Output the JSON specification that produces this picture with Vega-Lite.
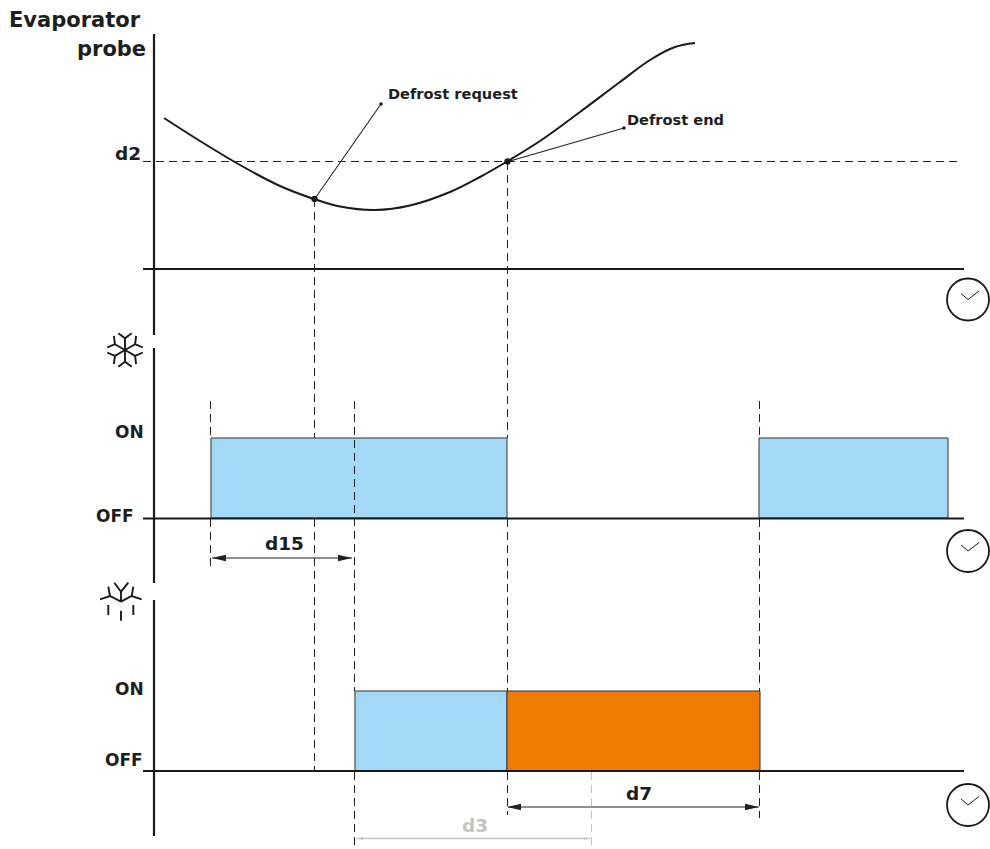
{
"$schema":"https://vega.github.io/schema/vega-lite/v6.json",
"width":990,"height":849,"padding":0,
"autosize":{"type":"none"},
"background":"white",
"config":{"view":{"stroke":null}},
"encoding":{
"x":{"field":"x","type":"quantitative","scale":{"domain":[0,990],"nice":false,"zero":false},"axis":null},
"y":{"field":"y","type":"quantitative","scale":{"domain":[849,0],"nice":false,"zero":false},"axis":null}
},
"layer":[
{"data":{"values":[
{"x":211,"x2":507,"y":438,"y2":518,"state":"cool"},
{"x":759,"x2":948,"y":438,"y2":518,"state":"cool"},
{"x":355,"x2":507,"y":691,"y2":771,"state":"cool"},
{"x":507,"x2":760,"y":691,"y2":771,"state":"heat"}]},
"mark":{"type":"rect","stroke":"#333333","strokeWidth":1},
"encoding":{"x2":{"field":"x2"},"y2":{"field":"y2"},"fill":{"field":"state","type":"nominal","scale":{"domain":["cool","heat"],"range":["#a3d9f7","#f07c05"]},"legend":null}}},
{"data":{"values":[
{"seg":"d2","i":0,"x":143,"y":161.5},{"seg":"d2","i":1,"x":961,"y":161.5},
{"seg":"a1","i":0,"x":314.5,"y":199},{"seg":"a1","i":1,"x":314.5,"y":438},
{"seg":"a2","i":0,"x":314.5,"y":519},{"seg":"a2","i":1,"x":314.5,"y":771},
{"seg":"b1","i":0,"x":507.5,"y":162},{"seg":"b1","i":1,"x":507.5,"y":438},
{"seg":"b2","i":0,"x":507.5,"y":519},{"seg":"b2","i":1,"x":507.5,"y":691},
{"seg":"b3","i":0,"x":507.5,"y":772},{"seg":"b3","i":1,"x":507.5,"y":815},
{"seg":"c1","i":0,"x":210.5,"y":401},{"seg":"c1","i":1,"x":210.5,"y":438},
{"seg":"c2","i":0,"x":210.5,"y":519},{"seg":"c2","i":1,"x":210.5,"y":570},
{"seg":"e1","i":0,"x":354.5,"y":401},{"seg":"e1","i":1,"x":354.5,"y":691},
{"seg":"e2","i":0,"x":354.5,"y":772},{"seg":"e2","i":1,"x":354.5,"y":849},
{"seg":"f1","i":0,"x":759.5,"y":401},{"seg":"f1","i":1,"x":759.5,"y":438},
{"seg":"f2","i":0,"x":759.5,"y":519},{"seg":"f2","i":1,"x":759.5,"y":691},
{"seg":"f3","i":0,"x":759.5,"y":772},{"seg":"f3","i":1,"x":759.5,"y":818}]},
"mark":{"type":"line","color":"#222222","strokeWidth":1,"strokeDash":[8,5]},
"encoding":{"detail":{"field":"seg"},"order":{"field":"i"}}},
{"data":{"values":[{"seg":"g","i":0,"x":591.5,"y":772},{"seg":"g","i":1,"x":591.5,"y":849}]},
"mark":{"type":"line","color":"#c4c4c4","strokeWidth":1,"strokeDash":[8,5]},
"encoding":{"detail":{"field":"seg"},"order":{"field":"i"}}},
{"data":{"values":[
{"seg":"v1","i":0,"x":154,"y":34},{"seg":"v1","i":1,"x":154,"y":335},
{"seg":"v2","i":0,"x":154,"y":348},{"seg":"v2","i":1,"x":154,"y":583},
{"seg":"v3","i":0,"x":154,"y":600},{"seg":"v3","i":1,"x":154,"y":836},
{"seg":"h1","i":0,"x":143,"y":269},{"seg":"h1","i":1,"x":964,"y":269},
{"seg":"h2","i":0,"x":143,"y":518.5},{"seg":"h2","i":1,"x":964,"y":518.5},
{"seg":"h3","i":0,"x":143,"y":771},{"seg":"h3","i":1,"x":964,"y":771}]},
"mark":{"type":"line","color":"#1a1a1a","strokeWidth":2.2},
"encoding":{"detail":{"field":"seg"},"order":{"field":"i"}}},
{"data":{"values":[
{"i":0,"x":164,"y":118},{"i":1,"x":200,"y":141},{"i":2,"x":240,"y":165},{"i":3,"x":280,"y":186},{"i":4,"x":314,"y":199},{"i":5,"x":340,"y":206.5},{"i":6,"x":375,"y":210},{"i":7,"x":410,"y":205.5},{"i":8,"x":450,"y":192},{"i":9,"x":480,"y":177},{"i":10,"x":507,"y":161.5},{"i":11,"x":540,"y":141},{"i":12,"x":580,"y":112},{"i":13,"x":620,"y":82},{"i":14,"x":650,"y":60},{"i":15,"x":675,"y":47},{"i":16,"x":695,"y":43}]},
"mark":{"type":"line","color":"#1a1a1a","strokeWidth":2,"interpolate":"catmull-rom"},
"encoding":{"order":{"field":"i"}}},
{"data":{"values":[
{"seg":"l1","i":0,"x":381,"y":104},{"seg":"l1","i":1,"x":316,"y":197},
{"seg":"l2","i":0,"x":624,"y":128},{"seg":"l2","i":1,"x":510,"y":161},
{"seg":"d15","i":0,"x":212,"y":558},{"seg":"d15","i":1,"x":352,"y":558},
{"seg":"d7","i":0,"x":508,"y":807},{"seg":"d7","i":1,"x":759,"y":807}]},
"mark":{"type":"line","color":"#222222","strokeWidth":1.1},
"encoding":{"detail":{"field":"seg"},"order":{"field":"i"}}},
{"data":{"values":[{"seg":"d3","i":0,"x":357,"y":838.5},{"seg":"d3","i":1,"x":590,"y":838.5}]},
"mark":{"type":"line","color":"#c4c4c4","strokeWidth":1.5},
"encoding":{"detail":{"field":"seg"},"order":{"field":"i"}}},
{"data":{"values":[{"x":219,"y":558},{"x":514,"y":807}]},
"mark":{"type":"point","shape":"M-1,0L1,-0.45L1,0.45Z","size":196,"filled":true,"color":"#222222","opacity":1}},
{"data":{"values":[{"x":345,"y":558},{"x":752,"y":807}]},
"mark":{"type":"point","shape":"M1,0L-1,-0.45L-1,0.45Z","size":196,"filled":true,"color":"#222222","opacity":1}},
{"data":{"values":[{"x":360,"y":838.5}]},
"mark":{"type":"point","shape":"M-1,0L1,-0.45L1,0.45Z","size":36,"filled":true,"color":"#c4c4c4","opacity":1}},
{"data":{"values":[{"x":587,"y":838.5}]},
"mark":{"type":"point","shape":"M1,0L-1,-0.45L-1,0.45Z","size":36,"filled":true,"color":"#c4c4c4","opacity":1}},
{"data":{"values":[{"x":314.5,"y":199},{"x":507.5,"y":161.5}]},
"mark":{"type":"point","shape":"circle","size":40,"filled":true,"color":"#1a1a1a","opacity":1}},
{"data":{"values":[{"x":381,"y":104},{"x":624,"y":128}]},
"mark":{"type":"point","shape":"circle","size":12,"filled":true,"color":"#1a1a1a","opacity":1}},
{"data":{"values":[{"x":968,"y":299.5},{"x":968,"y":551},{"x":968,"y":805}]},
"mark":{"type":"point","shape":"circle","size":1764,"filled":false,"color":"#1a1a1a","strokeWidth":1.8,"opacity":1}},
{"data":{"values":[
{"seg":"k1","i":0,"x":961,"y":293.5},{"seg":"k1","i":1,"x":968,"y":299.5},{"seg":"k1","i":2,"x":979,"y":291},
{"seg":"k2","i":0,"x":961,"y":545},{"seg":"k2","i":1,"x":968,"y":551},{"seg":"k2","i":2,"x":979,"y":542.5},
{"seg":"k3","i":0,"x":961,"y":799},{"seg":"k3","i":1,"x":968,"y":805},{"seg":"k3","i":2,"x":979,"y":796.5}]},
"mark":{"type":"line","color":"#1a1a1a","strokeWidth":1},
"encoding":{"detail":{"field":"seg"},"order":{"field":"i"}}},
{"data":{"values":[
{"seg":"s1","i":0,"x":125,"y":350},{"seg":"s1","i":1,"x":125,"y":338.3},
{"seg":"t1","i":0,"x":118.3,"y":333.3},{"seg":"t1","i":1,"x":125,"y":338.3},{"seg":"t1","i":2,"x":131.7,"y":333.3},
{"seg":"s2","i":0,"x":125,"y":350},{"seg":"s2","i":1,"x":135.1,"y":344.2},
{"seg":"t2","i":0,"x":136.1,"y":335.9},{"seg":"t2","i":1,"x":135.1,"y":344.2},{"seg":"t2","i":2,"x":142.8,"y":347.5},
{"seg":"s3","i":0,"x":125,"y":350},{"seg":"s3","i":1,"x":135.1,"y":355.9},
{"seg":"t3","i":0,"x":142.8,"y":352.5},{"seg":"t3","i":1,"x":135.1,"y":355.9},{"seg":"t3","i":2,"x":136.1,"y":364.1},
{"seg":"s4","i":0,"x":125,"y":350},{"seg":"s4","i":1,"x":125,"y":361.7},
{"seg":"t4","i":0,"x":131.7,"y":366.7},{"seg":"t4","i":1,"x":125,"y":361.7},{"seg":"t4","i":2,"x":118.3,"y":366.7},
{"seg":"s5","i":0,"x":125,"y":350},{"seg":"s5","i":1,"x":114.9,"y":355.9},
{"seg":"t5","i":0,"x":113.9,"y":364.1},{"seg":"t5","i":1,"x":114.9,"y":355.9},{"seg":"t5","i":2,"x":107.2,"y":352.5},
{"seg":"s6","i":0,"x":125,"y":350},{"seg":"s6","i":1,"x":114.9,"y":344.2},
{"seg":"t6","i":0,"x":107.2,"y":347.5},{"seg":"t6","i":1,"x":114.9,"y":344.2},{"seg":"t6","i":2,"x":113.9,"y":335.9},
{"seg":"u1","i":0,"x":121,"y":591.7},{"seg":"u1","i":1,"x":121,"y":601.7},
{"seg":"u2","i":0,"x":114.3,"y":582.7},{"seg":"u2","i":1,"x":121,"y":591.7},{"seg":"u2","i":2,"x":128.3,"y":582.7},
{"seg":"u3","i":0,"x":121,"y":601.7},{"seg":"u3","i":1,"x":110,"y":596},{"seg":"u3","i":2,"x":100,"y":599.3},
{"seg":"u4","i":0,"x":110,"y":596},{"seg":"u4","i":1,"x":108.3,"y":586.7},
{"seg":"u5","i":0,"x":121,"y":601.7},{"seg":"u5","i":1,"x":131.7,"y":596},{"seg":"u5","i":2,"x":141.7,"y":599.3},
{"seg":"u6","i":0,"x":131.7,"y":596},{"seg":"u6","i":1,"x":133.3,"y":586.7},
{"seg":"u7","i":0,"x":108.3,"y":605},{"seg":"u7","i":1,"x":108.3,"y":615},
{"seg":"u8","i":0,"x":121,"y":610.7},{"seg":"u8","i":1,"x":121,"y":620.7},
{"seg":"u9","i":0,"x":133.3,"y":605},{"seg":"u9","i":1,"x":133.3,"y":615}]},
"mark":{"type":"line","color":"#1a1a1a","strokeWidth":1.9},
"encoding":{"detail":{"field":"seg"},"order":{"field":"i"}}},
{"data":{"values":[{"x":9,"y":21,"t":"Evaporator"},{"x":77,"y":50,"t":"probe"}]},
"mark":{"type":"text","font":"DejaVu Sans","fontWeight":"bold","fontSize":21,"align":"left","baseline":"middle","color":"#1e1e1e"},
"encoding":{"text":{"field":"t"}}},
{"data":{"values":[{"x":115,"y":154,"t":"d2"},{"x":265,"y":544,"t":"d15"},{"x":626,"y":794,"t":"d7"}]},
"mark":{"type":"text","font":"DejaVu Sans","fontWeight":"bold","fontSize":18.5,"align":"left","baseline":"middle","color":"#1e1e1e"},
"encoding":{"text":{"field":"t"}}},
{"data":{"values":[{"x":462,"y":826,"t":"d3"}]},
"mark":{"type":"text","font":"DejaVu Sans","fontWeight":"bold","fontSize":18.5,"align":"left","baseline":"middle","color":"#c4c4c4"},
"encoding":{"text":{"field":"t"}}},
{"data":{"values":[{"x":115,"y":433,"t":"ON"},{"x":96,"y":517,"t":"OFF"},{"x":115,"y":690,"t":"ON"},{"x":105,"y":761,"t":"OFF"}]},
"mark":{"type":"text","font":"DejaVu Sans","fontWeight":"bold","fontSize":17,"align":"left","baseline":"middle","color":"#1e1e1e"},
"encoding":{"text":{"field":"t"}}},
{"data":{"values":[{"x":388,"y":95,"t":"Defrost request"},{"x":627,"y":121,"t":"Defrost end"}]},
"mark":{"type":"text","font":"DejaVu Sans","fontWeight":"bold","fontSize":14.6,"align":"left","baseline":"middle","color":"#1e1e1e"},
"encoding":{"text":{"field":"t"}}}
]
}
